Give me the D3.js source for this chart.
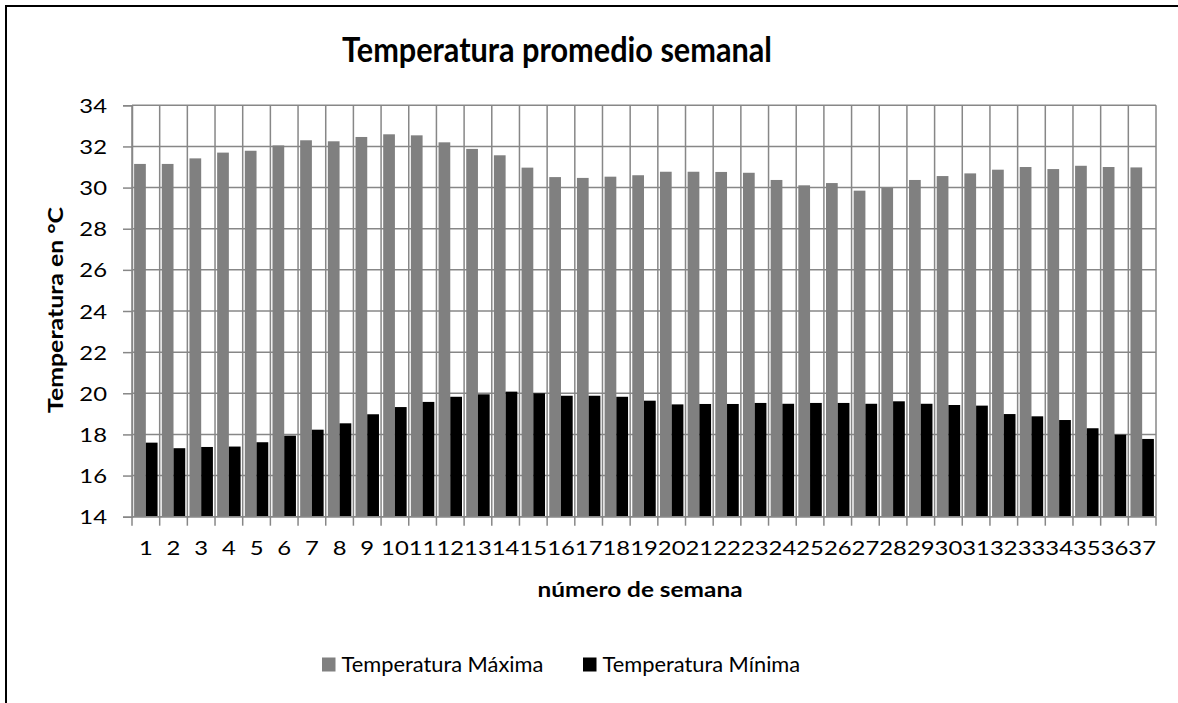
<!DOCTYPE html>
<html>
<head>
<meta charset="utf-8">
<script src="https://cdn.jsdelivr.net/npm/d3@7"></script>
<style>
  html, body { margin: 0; padding: 0; background: #fff; overflow: hidden; }
  svg { display: block; }
  text { font-family: Lato, "Open Sans", sans-serif; fill: #000; }
</style>
</head>
<body>
<svg id="chart" width="1178" height="703"></svg>
<script>
// ---- data ----
const weeks = d3.range(1, 38).map(String);
const tempMax = [31.15, 31.15, 31.42, 31.70, 31.79, 32.05, 32.30, 32.25, 32.46, 32.59,
                 32.54, 32.20, 31.88, 31.57, 30.97, 30.51, 30.47, 30.53, 30.60, 30.77,
                 30.77, 30.76, 30.72, 30.37, 30.11, 30.22, 29.85, 29.98, 30.37, 30.56,
                 30.69, 30.87, 31.00, 30.90, 31.06, 31.00, 30.98];
const tempMin = [17.60, 17.33, 17.39, 17.41, 17.62, 17.94, 18.23, 18.54, 18.98, 19.33,
                 19.58, 19.83, 19.95, 20.08, 20.00, 19.88, 19.88, 19.83, 19.64, 19.46,
                 19.48, 19.48, 19.53, 19.49, 19.53, 19.53, 19.49, 19.61, 19.49, 19.43,
                 19.40, 18.99, 18.88, 18.70, 18.30, 17.99, 17.78];
const yTicks = [14, 16, 18, 20, 22, 24, 26, 28, 30, 32, 34];
const seriesNames = ["Temperatura Máxima", "Temperatura Mínima"];
const seriesKeys = ["max", "min"];
const seriesColors = ["#808080", "#000000"];
const titleText = "Temperatura promedio semanal";
const xTitle = "número de semana";
const yTitle = "Temperatura en °C";

// ---- layout ----
const svg = d3.select("#chart");
const L = 132, R = 1156, T = 105.3, B = 516.7;
const gridColor = "#878787";

svg.append("path").attr("d", "M6,703 V6 H1178")
  .attr("fill", "none").attr("stroke", "#000").attr("stroke-width", 2);

const x = d3.scaleBand().domain(weeks).range([L, R]).paddingInner(0).paddingOuter(0);
const xs = d3.scaleBand().domain(seriesKeys).range([0, x.bandwidth()]).paddingInner(0).paddingOuter(0.18);
const y = d3.scaleLinear().domain([14, 34]).range([B, T]);
const color = d3.scaleOrdinal().domain(seriesKeys).range(seriesColors);

function measure(str, size, weight) {
  const t = svg.append("text").attr("font-size", size).attr("font-weight", weight).text(str);
  const w = t.node().getComputedTextLength();
  t.remove();
  return w;
}
const tickSize = 19.5;
const tickSx = x.bandwidth() / measure("00", tickSize, "normal");

// horizontal grid
svg.append("g").selectAll("line").data(yTicks).join("line")
  .attr("x1", L).attr("x2", R)
  .attr("y1", d => y(d)).attr("y2", d => y(d))
  .attr("stroke", gridColor).attr("stroke-width", 1.5);

// vertical grid at category boundaries
const bounds = weeks.map(w => x(w)).concat([R]);
svg.append("g").selectAll("line").data(bounds).join("line")
  .attr("x1", d => d).attr("x2", d => d)
  .attr("y1", T).attr("y2", B)
  .attr("stroke", gridColor).attr("stroke-width", 1.5);

// bars
const rows = weeks.map((w, i) => ({ week: w, max: tempMax[i], min: tempMin[i] }));
svg.append("g").selectAll("g").data(rows).join("g")
  .attr("transform", d => `translate(${x(d.week)},0)`)
  .selectAll("rect")
  .data(d => seriesKeys.map(k => ({ key: k, value: d[k] })))
  .join("rect")
  .attr("x", d => xs(d.key))
  .attr("width", xs.bandwidth())
  .attr("y", d => y(d.value))
  .attr("height", d => y(14) - y(d.value))
  .attr("fill", d => color(d.key));

// y axis
const yAxis = d3.axisLeft(y).tickValues(yTicks).tickSize(9).tickPadding(0).tickFormat(d3.format("d"));
const gy = svg.append("g").attr("transform", `translate(${L},0)`).call(yAxis);
gy.select(".domain").attr("stroke", gridColor).attr("stroke-width", 1.5);
gy.selectAll(".tick line").attr("stroke", gridColor).attr("stroke-width", 1.5);
gy.selectAll(".tick text")
  .attr("font-size", tickSize).attr("font-family", "Lato").attr("fill", "#000")
  .attr("x", 0).attr("dy", "0.36em")
  .attr("transform", `translate(-25,0) scale(${tickSx},1)`);

// x axis: ticks at category boundaries
const xAxisG = svg.append("g").attr("transform", `translate(0,${B})`);
xAxisG.append("line").attr("x1", L).attr("x2", R).attr("y1", 0).attr("y2", 0)
  .attr("stroke", gridColor).attr("stroke-width", 1.5);
xAxisG.selectAll("line.tk").data(bounds).join("line").attr("class", "tk")
  .attr("x1", d => d).attr("x2", d => d).attr("y1", 0).attr("y2", 9)
  .attr("stroke", gridColor).attr("stroke-width", 1.5);
xAxisG.selectAll("text").data(weeks).join("text")
  .attr("text-anchor", "middle").attr("font-size", tickSize)
  .attr("transform", d => `translate(${x(d) + x.bandwidth() / 2},38.5) scale(${tickSx},1)`)
  .text(d => d);

// title
const titleSize = 34;
const titleSx = 430 / measure(titleText, titleSize, "bold");
svg.append("text").attr("text-anchor", "middle").attr("font-size", titleSize).attr("font-weight", "bold")
  .attr("transform", `translate(557,62) scale(${titleSx},1)`).text(titleText);

// axis titles
const axSize = 21;
const xtSx = 205 / measure(xTitle, axSize, "bold");
svg.append("text").attr("text-anchor", "middle").attr("font-size", axSize).attr("font-weight", "bold")
  .attr("transform", `translate(640,597) scale(${xtSx},1)`).text(xTitle);
const ytSx = 206 / measure(yTitle, axSize, "bold");
svg.append("text").attr("text-anchor", "middle").attr("font-size", axSize).attr("font-weight", "bold")
  .attr("transform", `translate(63,310) rotate(-90) scale(${ytSx},1)`).text(yTitle);

// legend
const legSize = 21;
const legSx = 202 / measure(seriesNames[0], legSize, "normal");
const legX = [322, 583];
const lg = svg.append("g").selectAll("g").data(seriesKeys).join("g")
  .attr("transform", (d, i) => `translate(${legX[i]},0)`);
lg.append("rect").attr("x", 0).attr("y", 657.5).attr("width", 13.5).attr("height", 14)
  .attr("fill", d => color(d));
lg.append("text").attr("font-size", legSize)
  .attr("transform", `translate(19.5,671.7) scale(${legSx},1)`)
  .text((d, i) => seriesNames[i]);
</script>
</body>
</html>
